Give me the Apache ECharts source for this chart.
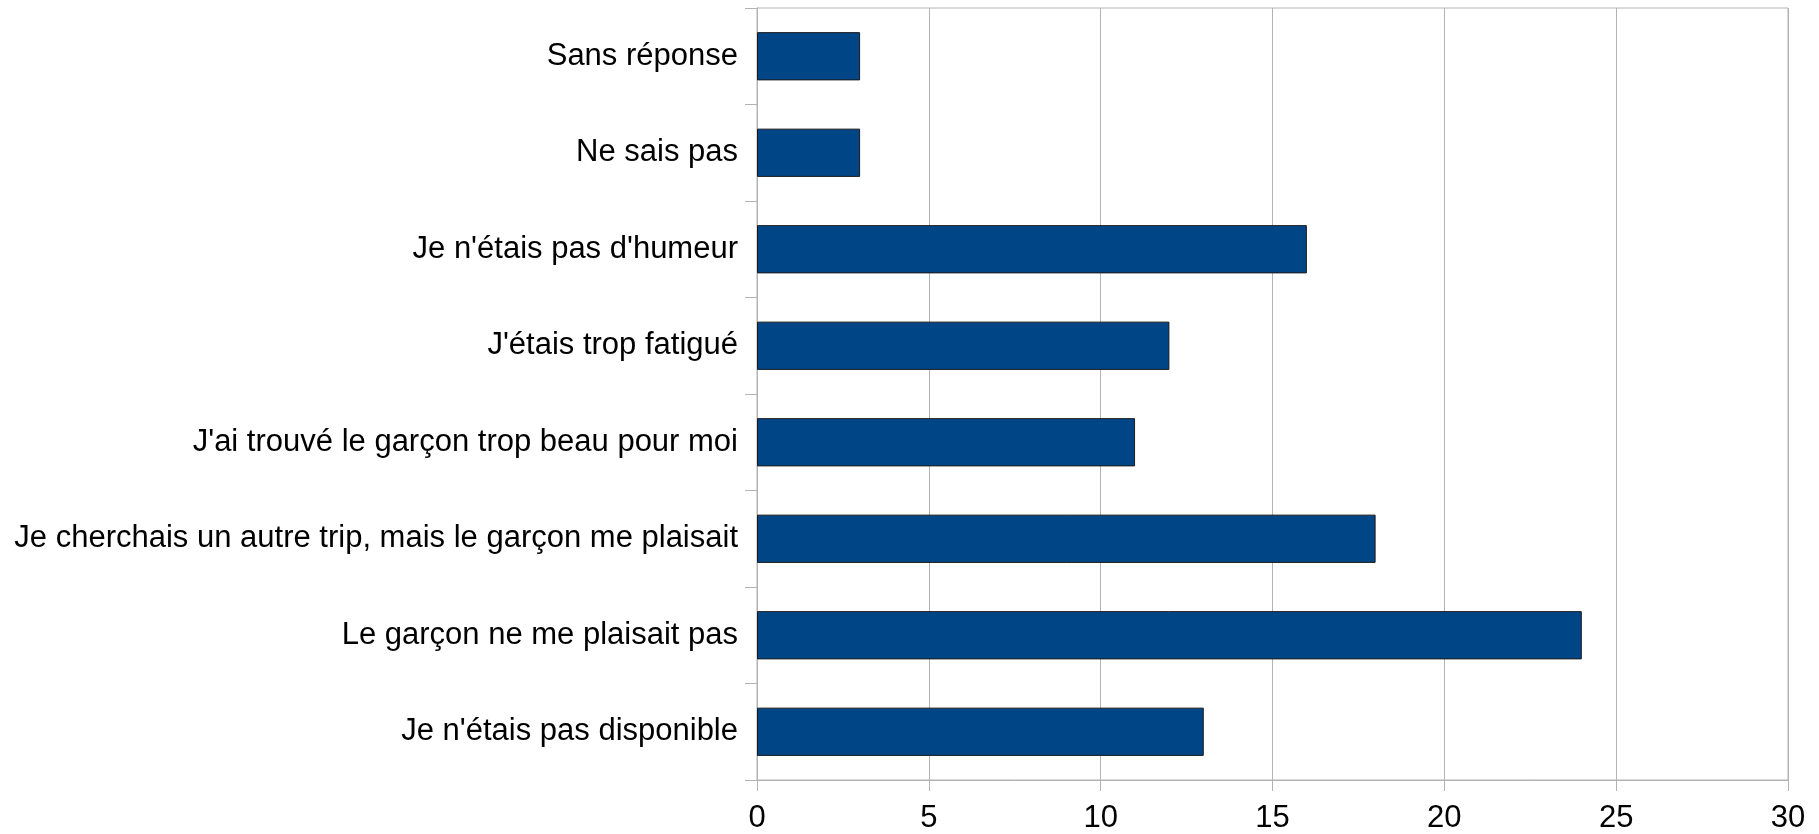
<!DOCTYPE html>
<html>
<head>
<meta charset="utf-8">
<script src="https://cdn.jsdelivr.net/npm/echarts@6/dist/echarts.min.js"></script>
<style>
html,body{margin:0;padding:0;background:#fff;}
#chart{width:1819px;height:834px;}
</style>
</head>
<body>
<div id="chart"></div>
<script>
const categories = [
  "Je n'étais pas disponible",
  "Le garçon ne me plaisait pas",
  "Je cherchais un autre trip, mais le garçon me plaisait",
  "J'ai trouvé le garçon trop beau pour moi",
  "J'étais trop fatigué",
  "Je n'étais pas d'humeur",
  "Ne sais pas",
  "Sans réponse"
];
const values = [13, 24, 18, 11, 12, 16, 3, 3];
const xTicks = [0, 5, 10, 15, 20, 25, 30];

const chart = echarts.init(document.getElementById('chart'), null, {renderer: 'canvas'});
chart.setOption({
  animation: false,
  backgroundColor: '#ffffff',
  grid: {
    left: 757, top: 8, width: 1031, height: 775,
    show: true, borderColor: '#b3b3b3', borderWidth: 1, backgroundColor: 'transparent'
  },
  xAxis: {
    type: 'value',
    min: xTicks[0], max: xTicks[xTicks.length - 1], interval: 5,
    axisLine: {show: true, lineStyle: {color: '#b3b3b3', width: 1}},
    axisTick: {show: true, length: 11, lineStyle: {color: '#b3b3b3'}},
    splitLine: {show: true, lineStyle: {color: '#b3b3b3', width: 1}},
    axisLabel: {color: '#000', fontSize: 31, fontFamily: 'Liberation Sans', margin: 23}
  },
  yAxis: {
    type: 'category',
    data: categories,
    axisLine: {show: true, lineStyle: {color: '#b3b3b3', width: 1}},
    axisTick: {show: true, length: 12, lineStyle: {color: '#b3b3b3'}},
    splitLine: {show: false},
    axisLabel: {color: '#000', fontSize: 31, fontFamily: 'Liberation Sans', margin: 19}
  },
  series: [{
    type: 'bar',
    data: values,
    barWidth: '50%',
    itemStyle: {color: '#004586', borderColor: '#1a1a1a', borderWidth: 1}
  }]
});
</script>
</body>
</html>
